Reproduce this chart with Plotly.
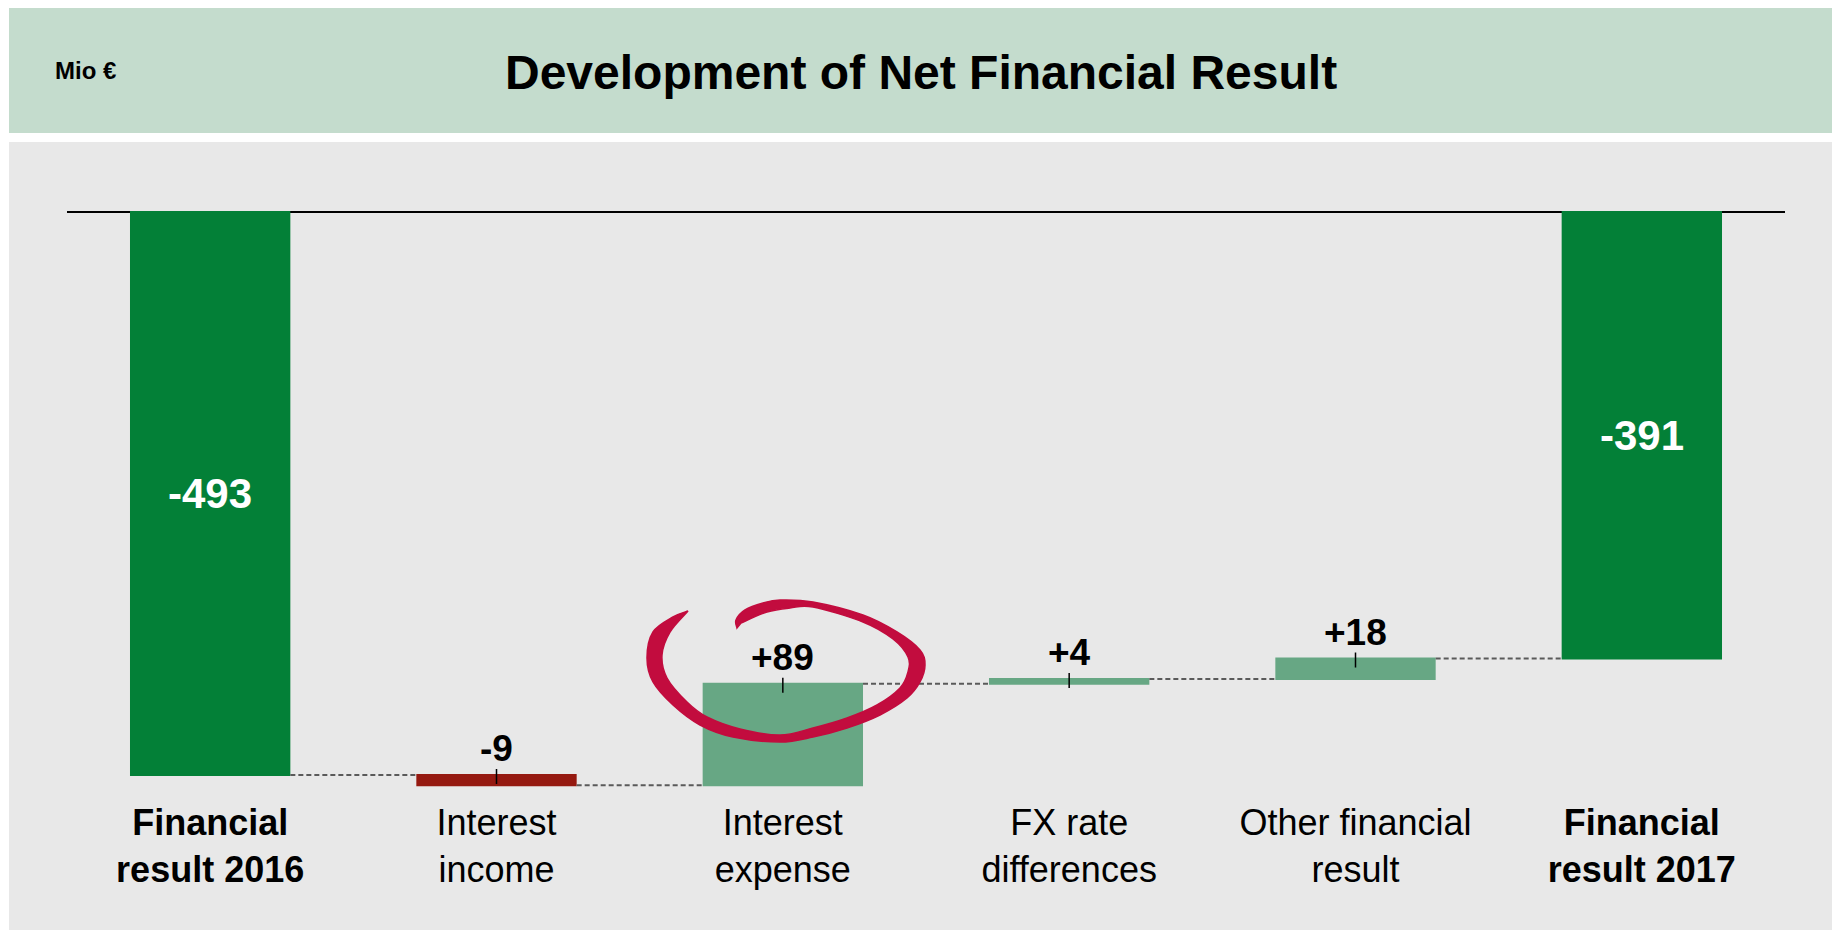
import plotly.graph_objects as go

# ---- Data ----
CATEGORIES = ["<b>Financial<br>result 2016</b>", "Interest<br>income", "Interest<br>expense",
              "FX rate<br>differences", "Other financial<br>result", "<b>Financial<br>result 2017</b>"]
MEASURES = ["absolute", "relative", "relative", "relative", "relative", "total"]
VALUES = [-493, -9, 89, 4, 18, -391]

# ---- Style ----
W, H = 1840, 932
OFF = 8  # page body margin
FONT = "Arial, Liberation Sans, sans-serif"
C_TOTAL = "#038037"
C_UP = "#67A784"
C_DOWN = "#951910"
C_HEADER = "#C4DCCD"
C_PANEL = "#E8E8E8"
C_CIRCLE = "#C20C3E"
PX_PER_UNIT = 1.142

# plot area in screen pixels
X0, X1 = 67, 1785
Y0, Y1 = 150, 790
ZERO_PX = 212


def px(x):
    return (x - OFF) / W


def py(y):
    return 1 - (y - OFF) / H


# running totals -> bar start/end
starts, ends = [], []
run = 0
for m, v in zip(MEASURES, VALUES):
    if m == "absolute":
        s, e = 0, v
    elif m == "total":
        s, e = 0, run
    else:
        s, e = run, run + v
    run = e if m != "total" else run
    starts.append(s)
    ends.append(e)

fig = go.Figure()
fig.add_trace(go.Waterfall(
    x=CATEGORIES, y=VALUES, measure=MEASURES,
    totals=dict(marker=dict(color=C_TOTAL, line=dict(width=0))),
    increasing=dict(marker=dict(color=C_UP, line=dict(width=0))),
    decreasing=dict(marker=dict(color=C_DOWN, line=dict(width=0))),
    connector=dict(mode="between", line=dict(color="#5A5A5A", width=2, dash="5px,3px")),
    textposition="none", hoverinfo="skip", showlegend=False,
))

# small tick marks on top of the delta bars
tx, ty = [], []
for i, m in enumerate(MEASURES):
    if m == "relative":
        top = max(starts[i], ends[i])
        tx += [CATEGORIES[i], CATEGORIES[i], None]
        ty += [top + 6 / PX_PER_UNIT, top - 9 / PX_PER_UNIT, None]
fig.add_trace(go.Scatter(x=tx, y=ty, mode="lines", line=dict(color="black", width=1.5),
                         hoverinfo="skip", showlegend=False))

annotations = []
for i, m in enumerate(MEASURES):
    if m == "relative":
        top = max(starts[i], ends[i])
        annotations.append(dict(
            x=CATEGORIES[i], y=top, xref="x", yref="y", text=f"<b>{VALUES[i]:+d}</b>",
            showarrow=False, yanchor="bottom", yshift=4,
            font=dict(size=37, family=FONT, color="black")))
    else:
        annotations.append(dict(
            x=CATEGORIES[i], y=(starts[i] + ends[i]) / 2, xref="x", yref="y",
            text=f"<b>{ends[i]}</b>", showarrow=False, yanchor="middle",
            font=dict(size=42, family=FONT, color="white")))

annotations.append(dict(x=px(53), y=py(71), xref="paper", yref="paper",
                        xanchor="left", yanchor="middle",
                        text="<b>Mio €</b>", showarrow=False,
                        font=dict(size=24, family=FONT, color="black")))
annotations.append(dict(x=px(921), y=py(72), xref="paper", yref="paper",
                        xanchor="center", yanchor="middle",
                        text="<b>Development of Net Financial Result</b>", showarrow=False,
                        font=dict(size=48, family=FONT, color="black")))

# hand-drawn red ring around +89 (screen pixel outline, outer then inner edge)
outer = [(688, 611), (673, 617), (653, 632), (647, 658), (653, 682), (673, 705), (700, 725),
         (733, 737), (780, 742), (813, 737), (847, 728), (880, 715), (907, 698), (920, 682),
         (925, 665), (920, 650), (897, 632), (863, 615), (813, 602), (780, 600), (763, 603),
         (745, 610), (736, 620), (737, 628)]
inner = [(741, 623), (767, 612), (790, 608), (813, 607), (863, 622), (893, 639), (908, 657),
         (908, 672), (900, 688), (877, 705), (847, 718), (813, 728), (780, 735), (740, 729),
         (707, 717), (687, 702), (667, 678), (662, 655), (670, 632), (688, 611)]


def smooth_path(pts):
    # catmull-rom through points -> cubic bezier path in paper coords
    d = f"M {px(pts[0][0]):.5f},{py(pts[0][1]):.5f}"
    for k in range(len(pts) - 1):
        p0 = pts[k - 1] if k > 0 else pts[k]
        p1, p2 = pts[k], pts[k + 1]
        p3 = pts[k + 2] if k + 2 < len(pts) else pts[k + 1]
        c1 = (p1[0] + (p2[0] - p0[0]) / 6, p1[1] + (p2[1] - p0[1]) / 6)
        c2 = (p2[0] - (p3[0] - p1[0]) / 6, p2[1] - (p3[1] - p1[1]) / 6)
        d += (f" C {px(c1[0]):.5f},{py(c1[1]):.5f} {px(c2[0]):.5f},{py(c2[1]):.5f}"
              f" {px(p2[0]):.5f},{py(p2[1]):.5f}")
    return d


ring = smooth_path(outer) + " L" + smooth_path(inner)[1:] + " Z"

shapes = [
    dict(type="rect", xref="paper", yref="paper", x0=px(9), x1=px(1834), y0=py(133), y1=1,
         fillcolor=C_HEADER, line=dict(width=0), layer="below"),
    dict(type="rect", xref="paper", yref="paper", x0=px(9), x1=px(1834), y0=py(930), y1=py(142),
         fillcolor=C_PANEL, line=dict(width=0), layer="below"),
    dict(type="rect", xref="paper", yref="paper", x0=px(1837), x1=px(1840), y0=0, y1=1,
         fillcolor="#ABABAB", line=dict(width=0), layer="below"),
    dict(type="path", xref="paper", yref="paper", path=ring, fillcolor=C_CIRCLE,
         line=dict(width=1.5, color=C_CIRCLE), layer="above"),
]

y_top = (ZERO_PX - Y0) / PX_PER_UNIT
y_bot = y_top - (Y1 - Y0) / PX_PER_UNIT

fig.update_layout(
    width=W, height=H,
    margin=dict(l=0, r=0, t=0, b=0),
    paper_bgcolor="white", plot_bgcolor="rgba(0,0,0,0)",
    font=dict(family=FONT, color="black"),
    waterfallgap=0.44,
    xaxis=dict(domain=[px(X0), px(X1)], range=[-0.5, 5.5], showgrid=False, zeroline=False,
               showline=False, ticks="", tickfont=dict(size=36, family=FONT, color="black"),
               ticklabelstandoff=8, automargin=False, fixedrange=True),
    yaxis=dict(domain=[py(Y1), py(Y0)], range=[y_bot, y_top], showgrid=False,
               zeroline=True, zerolinecolor="black", zerolinewidth=2,
               showticklabels=False, ticks="", automargin=False, fixedrange=True),
    annotations=annotations, shapes=shapes,
)

fig.write_html("out.html")
